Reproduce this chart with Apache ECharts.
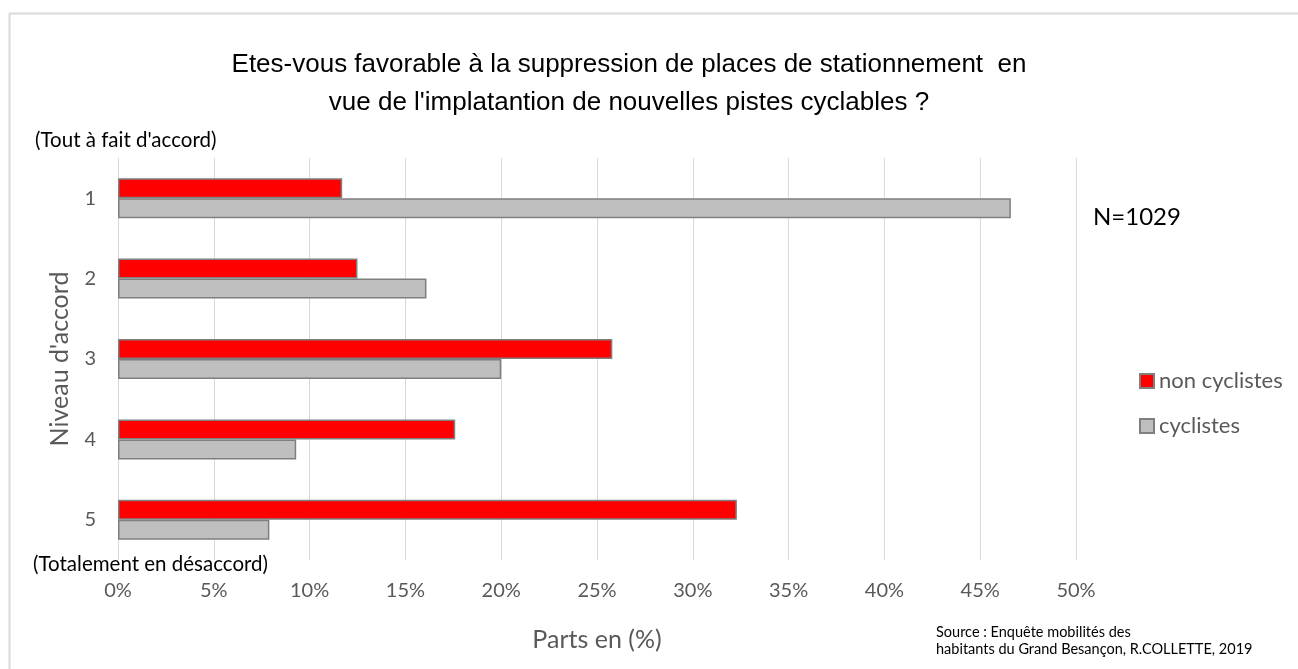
<!DOCTYPE html>
<html>
<head>
<meta charset="utf-8">
<script src="https://cdn.jsdelivr.net/npm/echarts@6/dist/echarts.min.js"></script>
<style>
html,body{margin:0;padding:0;background:#fff;}
#chart{width:1298px;height:669px;}
</style>
</head>
<body>
<div id="chart"></div>
<script>
const categories = ['1', '2', '3', '4', '5'];
const nonCyclistes = [11.7, 12.5, 25.8, 17.6, 32.3];
const cyclistes = [46.6, 16.1, 20.0, 9.3, 7.9];
const seriesNames = ['non cyclistes', 'cyclistes'];

const font = 'Lato, "Open Sans", sans-serif';
const chart = echarts.init(document.getElementById('chart'));
chart.setOption({
  backgroundColor: '#fff',
  animation: false,
  title: {
    text: "Etes-vous favorable à la suppression de places de stationnement  en\nvue de l'implatantion de nouvelles pistes cyclables ?",
    left: 624, top: 41, textAlign: 'center',
    textStyle: {fontFamily: '"Liberation Sans", Arial, sans-serif', fontSize: 26, fontWeight: 'normal', color: '#000', lineHeight: 38}
  },
  legend: {
    orient: 'vertical', left: 1139, top: 370, itemGap: 23, padding: 0,
    itemWidth: 14, itemHeight: 14, icon: 'rect',
    data: seriesNames,
    textStyle: {fontFamily: font, fontSize: 22, lineHeight: 22, color: '#595959'}
  },
  grid: {left: 118, right: 222, top: 158, bottom: 109, containLabel: false},
  xAxis: {
    type: 'value', min: 0, max: 50, interval: 5,
    name: 'Parts en (%)', nameLocation: 'middle', nameGap: 67,
    nameTextStyle: {fontFamily: font, fontSize: 25, color: '#595959'},
    axisLine: {show: false}, axisTick: {show: false},
    axisLabel: {margin: 21, fontFamily: font, fontSize: 20, color: '#595959', formatter: v => v + '%'},
    splitLine: {show: true, lineStyle: {color: '#d9d9d9', width: 1}}
  },
  yAxis: {
    type: 'category', data: categories, inverse: true,
    name: "Niveau d'accord", nameLocation: 'middle', nameGap: 46,
    nameTextStyle: {fontFamily: font, fontSize: 25, color: '#595959'},
    axisLine: {show: false}, axisTick: {show: false},
    axisLabel: {margin: 22, fontFamily: font, fontSize: 20, color: '#595959'}
  },
  series: [
    {
      name: seriesNames[0], type: 'bar', data: nonCyclistes,
      barWidth: 20, barGap: '0%',
      itemStyle: {color: '#ff0000', borderColor: '#7f7f7f', borderWidth: 1.5}
    },
    {
      name: seriesNames[1], type: 'bar', data: cyclistes,
      barWidth: 20, barGap: '0%',
      itemStyle: {color: '#bfbfbf', borderColor: '#7f7f7f', borderWidth: 1.5}
    }
  ],
  graphic: [
    {type: 'rect', left: 7, top: 11, shape: {width: 1300, height: 680}, style: {fill: 'none', stroke: '#d9d9d9', lineWidth: 2}, silent: true, z: -1},
    {type: 'text', left: 35, top: 130, style: {text: "(Tout à fait d'accord)", font: '20.5px ' + font, fill: '#000'}},
    {type: 'text', left: 33, top: 554, style: {text: '(Totalement en désaccord)', font: '20.5px ' + font, fill: '#000'}},
    {type: 'text', left: 1093, top: 205, style: {text: 'N=1029', font: '24px ' + font, fill: '#000'}},
    {type: 'text', left: 936, top: 624, style: {text: 'Source : Enquête mobilités des\nhabitants du Grand Besançon, R.COLLETTE, 2019', font: '14.5px ' + font, fill: '#000', lineHeight: 17}}
  ]
});
</script>
</body>
</html>
